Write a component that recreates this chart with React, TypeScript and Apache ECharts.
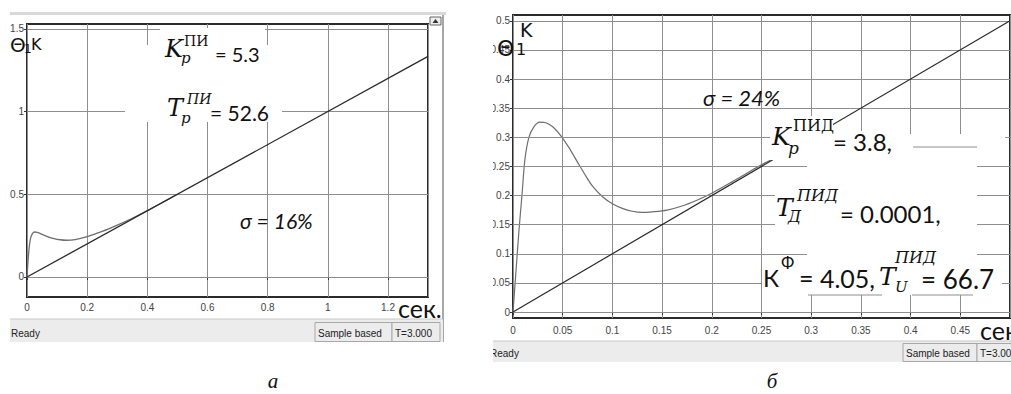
import React, { useEffect, useRef } from "react";
import * as echarts from "echarts";

// ---------- data ----------
// panel "а": ramp input and closed-loop response (PI controller)
const rampA_t = [0, 1.333];
const rampA_y = [0, 1.333];
const respA_t = [0, 0.004, 0.008, 0.012, 0.018, 0.025, 0.035, 0.05, 0.07, 0.09, 0.11, 0.13, 0.16, 0.2, 0.25, 0.3, 0.35, 0.4, 0.45, 0.5];
const respA_y = [0, 0.11, 0.19, 0.235, 0.262, 0.272, 0.27, 0.258, 0.243, 0.232, 0.225, 0.222, 0.226, 0.244, 0.275, 0.313, 0.355, 0.401, 0.45, 0.5];
// panel "б": ramp input and closed-loop response (PID controller)
const rampB_t = [0, 0.5];
const rampB_y = [0, 0.5];
const respB_t = [0, 0.003, 0.006, 0.009, 0.012, 0.016, 0.021, 0.027, 0.033, 0.04, 0.048, 0.056, 0.064, 0.072, 0.08, 0.09, 0.1, 0.11, 0.12, 0.13, 0.14, 0.155, 0.17, 0.185, 0.2, 0.22, 0.24, 0.26, 0.28];
const respB_y = [0, 0.07, 0.14, 0.2, 0.262, 0.3, 0.318, 0.326, 0.325, 0.318, 0.303, 0.283, 0.26, 0.237, 0.216, 0.198, 0.186, 0.178, 0.173, 0.171, 0.172, 0.175, 0.182, 0.192, 0.204, 0.223, 0.243, 0.262, 0.281];
// tick labels
const yTicksA = [0, 0.5, 1, 1.5];
const yTicksB = [0, 0.05, 0.1, 0.15, 0.2, 0.25, 0.3, 0.35, 0.4, 0.45, 0.5];

const zip = (a: number[], b: number[]) => a.map((v, i) => [v, b[i]]);

const GRID_C = "#8e8e8e";
const serifIt = (s: number) => `italic ${s}px "DejaVu Serif"`;
const serif = (s: number) => `${s}px "DejaVu Serif"`;
const sans = (s: number) => `${s}px Lato`;
const sansIt = (s: number) => `italic ${s}px Lato`;

const T = (x: number, y: number, text: string, font: string, extra: any = {}, z = 60) => ({
  type: "text",
  x,
  y,
  z,
  silent: true,
  style: {
    text,
    font,
    fill: "#111",
    align: "left",
    verticalAlign: "middle",
    textAlign: "left",
    textVerticalAlign: "middle",
    ...extra,
  },
});
const R = (x: number, y: number, w: number, h: number, fill = "#fff", z = 50, stroke?: string) => ({
  type: "rect",
  z,
  silent: true,
  shape: { x, y, width: w, height: h },
  style: stroke ? { fill, stroke, lineWidth: 1 } : { fill },
});
const L = (x1: number, y1: number, x2: number, y2: number, stroke = GRID_C, z = 55, w = 1) => ({
  type: "line",
  z,
  silent: true,
  shape: { x1, y1, x2, y2 },
  style: { stroke, lineWidth: w },
});

const axisLabelStyle = { fontSize: 10, color: "#444", fontFamily: "Liberation Sans" };

export default function App() {
  const ref = useRef<HTMLDivElement>(null);
  useEffect(() => {
    if (!ref.current) return;
    const chart = echarts.init(ref.current, undefined, { renderer: "svg" });
    const gridLines = (ticks: number[]) => ({
      silent: true,
      symbol: ["none", "none"],
      label: { show: false },
      lineStyle: { color: GRID_C, type: "solid", width: 1 },
      data: ticks.map((v) => ({ yAxis: v })),
    });
    const option: any = {
      animation: false,
      backgroundColor: "#fff",
      grid: [
        { left: 27, top: 24, width: 401, height: 273, show: true, borderColor: "#2b2b2b", borderWidth: 2, backgroundColor: "transparent" },
        { left: 513, top: 15, width: 497, height: 303, show: true, borderColor: "#2b2b2b", borderWidth: 2, backgroundColor: "transparent" },
      ],
      xAxis: [
        {
          gridIndex: 0, type: "value", min: 0, max: 1.333, interval: 0.2,
          axisLine: { show: false },
          axisTick: { show: true, length: 3, lineStyle: { color: "#333" } },
          axisLabel: { ...axisLabelStyle, margin: 5, showMaxLabel: false },
          splitLine: { show: true, lineStyle: { color: GRID_C, width: 1 } },
        },
        {
          gridIndex: 1, type: "value", min: 0, max: 0.5, interval: 0.05,
          axisLine: { show: false },
          axisTick: { show: true, length: 3, lineStyle: { color: "#333" } },
          axisLabel: { ...axisLabelStyle, margin: 7, showMaxLabel: false },
          splitLine: { show: true, lineStyle: { color: GRID_C, width: 1 } },
        },
      ],
      yAxis: [
        {
          gridIndex: 0, type: "value", min: -0.121, max: 1.529,
          axisLine: { show: false },
          axisTick: { show: true, length: 3, customValues: yTicksA, lineStyle: { color: "#333" } },
          axisLabel: { ...axisLabelStyle, margin: 3, customValues: yTicksA, showMaxLabel: true, showMinLabel: true, hideOverlap: false },
          splitLine: { show: false },
        },
        {
          gridIndex: 1, type: "value", min: -0.0103, max: 0.51,
          axisLine: { show: false },
          axisTick: { show: true, length: 3, customValues: yTicksB, lineStyle: { color: "#333" } },
          axisLabel: { ...axisLabelStyle, margin: 3, customValues: yTicksB, showMaxLabel: true, showMinLabel: true },
          splitLine: { show: false },
        },
      ],
      series: [
        {
          type: "line", xAxisIndex: 0, yAxisIndex: 0, data: zip(rampA_t, rampA_y), symbol: "none", z: 1,
          lineStyle: { opacity: 0 }, markLine: gridLines(yTicksA),
        },
        {
          type: "line", xAxisIndex: 1, yAxisIndex: 1, data: zip(rampB_t, rampB_y), symbol: "none", z: 1,
          lineStyle: { opacity: 0 }, markLine: gridLines(yTicksB),
        },
        {
          type: "line", xAxisIndex: 0, yAxisIndex: 0, data: zip(rampA_t, rampA_y), symbol: "none", z: 5,
          lineStyle: { color: "#2a2a2a", width: 1.3 },
        },
        {
          type: "line", xAxisIndex: 0, yAxisIndex: 0, data: zip(respA_t, respA_y), symbol: "none", z: 4,
          smooth: 0.3,
          lineStyle: { color: "#6e6e6e", width: 1.3 },
        },
        {
          type: "line", xAxisIndex: 1, yAxisIndex: 1, data: zip(rampB_t, rampB_y), symbol: "none", z: 5,
          lineStyle: { color: "#2a2a2a", width: 1.2 },
        },
        {
          type: "line", xAxisIndex: 1, yAxisIndex: 1, data: zip(respB_t, respB_y), symbol: "none", z: 4,
          smooth: 0.3,
          lineStyle: { color: "#6e6e6e", width: 1.2 },
        },
      ],
      graphic: {
        elements: [
          // ---- window chrome, panel а ----
          R(10, 12, 436, 3, "#d9d9d9", 40),
          L(443, 15, 443, 342, "#8a8a8a", 40, 1.5),
          R(430, 17, 11, 8, "#eeeeee", 41, "#666"),
          { type: "polygon", z: 42, silent: true, shape: { points: [[432.5, 23], [435.5, 19], [438.5, 23]] }, style: { fill: "#333" } },
          R(10, 319, 433, 23, "#ececec", 40),
          L(10, 319, 443, 319, "#c8c8c8", 41),
          T(11, 333, "Ready", "10px \"Liberation Sans\"", { fill: "#222" }, 42),
          R(315, 322.5, 77, 19, "#ececec", 41, "#a8a8a8"),
          T(318, 333, "Sample based", "10px \"Liberation Sans\"", { fill: "#222" }, 42),
          R(392, 322.5, 48, 19, "#ececec", 41, "#a8a8a8"),
          T(395, 333, "T=3.000", "10px \"Liberation Sans\"", { fill: "#222" }, 42),

          // ---- window chrome, panel б ----
          R(493, 341, 518, 21, "#ececec", 40),
          L(493, 341, 1011, 341, "#c8c8c8", 41),
          T(490, 353, "Ready", "10px \"Liberation Sans\"", { fill: "#222" }, 42),
          R(903, 343.5, 74, 18, "#ececec", 41, "#a8a8a8"),
          T(906, 353, "Sample based", "10px \"Liberation Sans\"", { fill: "#222" }, 42),
          R(977, 343.5, 40, 18, "#ececec", 41, "#a8a8a8"),
          T(980, 353, "T=3.000", "10px \"Liberation Sans\"", { fill: "#222" }, 42),

          // ---- white patches behind pasted formulas, panel а ----
          R(125, 45, 157, 77),
          R(160, 28, 105, 17),

          // ---- white patches, panel б ----
          R(807, 147, 170, 148),
          R(770, 116, 63, 44),
          R(833, 131, 67, 20),
          R(900, 134, 105, 13),
          R(775, 186, 32, 39),
          R(762, 262, 240, 30),
          L(913, 147, 977, 147),
          L(808, 295, 882, 295),
          L(912, 295, 973, 295),

          // cover between the two screenshots (crops panel б labels)
          R(447, 0, 46, 394, "#fff", 70),

          // ---- texts, panel а ----
          T(10, 45, "Θ", "20px \"DejaVu Sans\""),
          T(24, 49, "1", "12px \"DejaVu Sans\""),
          T(31, 44, "K", "16px \"DejaVu Sans\""),
          T(165, 49, "K", serifIt(24)),
          T(181, 58, "p", serifIt(15)),
          T(184, 41, "ПИ", serif(14)),
          T(215, 53.5, "= 5.3", sans(20)),
          T(167, 108, "T", serifIt(24)),
          T(181, 118, "p", serifIt(15)),
          T(187, 99, "ПИ", serifIt(14)),
          T(210, 112, "= 52.6", sans(21)),
          T(240, 220, "σ = 16%", sansIt(21)),
          T(398, 308, "сек.", sans(25)),

          // ---- texts, panel б ----
          T(520, 29.5, "K", "19px \"DejaVu Sans\""),
          T(497, 48, "Θ", "22px \"DejaVu Sans\""),
          T(516, 49, "1", "16px \"DejaVu Sans\""),
          T(703, 97, "σ = 24%", sansIt(22)),
          T(772, 136, "K", serifIt(25)),
          T(788, 148, "p", serifIt(17)),
          T(793, 125, "ПИД", serif(16)),
          T(833, 141.5, "= 3.8,", sans(24)),
          T(776, 207.5, "T", serifIt(25)),
          T(788, 216, "Д", serifIt(16)),
          T(797, 195, "ПИД", serifIt(16)),
          T(840, 213.5, "= 0.0001,", sans(24)),
          T(763, 277, "К", sans(24)),
          T(781, 262, "Ф", sans(17)),
          T(799, 278, "= 4.05,", sans(25)),
          T(879, 276, "T", serifIt(25)),
          T(895, 287, "U", serifIt(15)),
          T(895, 257, "ПИД", serifIt(16)),
          T(921, 279, "= 66.7", sans(26)),
          T(980, 330, "сек", sans(25)),

          // ---- captions ----
          T(273, 381, "а", "italic 21px \"Liberation Serif\"", { align: "center", textAlign: "center" }, 80),
          T(772, 381, "б", "italic 21px \"Liberation Serif\"", { align: "center", textAlign: "center" }, 80),
        ],
      },
    };
    chart.setOption(option);
    return () => chart.dispose();
  }, []);
  return (
    <div style={{ position: "absolute", left: 0, top: 0, width: 1011, height: 394, background: "#fff" }}>
      <div ref={ref} style={{ width: 1011, height: 394 }} />
    </div>
  );
}
